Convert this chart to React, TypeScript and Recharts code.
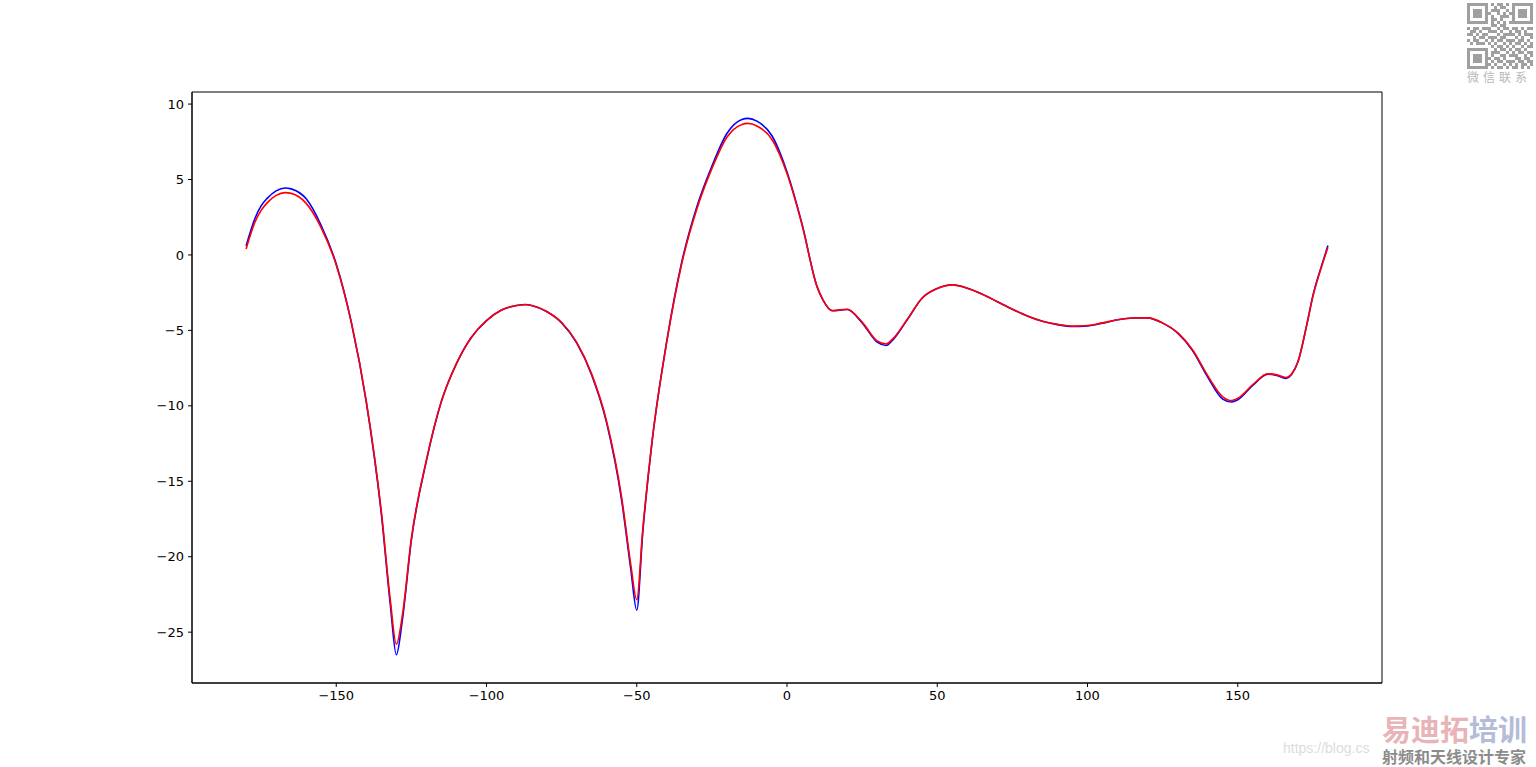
import { LineChart, Line, XAxis, YAxis, ReferenceArea } from 'recharts'

const angles = [
  -180, -177, -175, -173, -170, -167, -165, -160, -155, -150, -145, -140, -135, -132, -130, -128, -125, -120,
  -115, -110, -105, -100, -95, -90, -87, -85, -80, -75, -70, -65, -60, -55, -52, -50, -48, -45,
  -40, -35, -30, -25, -20, -15, -13, -10, -5, 0, 5, 10, 12, 15, 20, 25, 30, 33, 35, 40, 45, 50,
  55, 60, 65, 70, 75, 80, 85, 90, 95, 100, 105, 110, 115, 120, 125, 130, 135, 140, 145, 148,
  150, 155, 160, 163, 166, 168, 170, 173, 175, 178, 180,
]

const redGain = [
  0.4, 2.2, 2.95, 3.45, 3.95, 4.13, 4.08, 3.42, 1.8, -0.66, -4.45, -9.7, -17.0, -22.9, -25.8, -23.9, -18.8, -13.6,
  -9.7, -7.2, -5.45, -4.35, -3.65, -3.35, -3.3, -3.35, -3.75, -4.48, -5.8, -7.9, -11.05, -16.1, -20.5, -22.85, -18.2, -12.5,
  -5.75, -0.55, 3.05, 5.72, 7.8, 8.65, 8.72, 8.55, 7.65, 5.4, 2.0, -2.1, -3.0, -3.68, -3.6, -4.45, -5.7, -5.9, -5.6, -4.28, -2.85, -2.22,
  -1.98, -2.2, -2.6, -3.1, -3.6, -4.05, -4.4, -4.6, -4.72, -4.68, -4.5, -4.3, -4.18, -4.17, -4.5, -5.15, -6.3, -8.0, -9.4, -9.65,
  -9.5, -8.6, -7.88, -7.95, -8.12, -7.85, -7.1, -4.6, -2.75, -0.7, 0.5,
]

const blueGain = [
  0.6, 2.45, 3.25, 3.75, 4.25, 4.44, 4.38, 3.72, 1.95, -0.6, -4.45, -9.75, -17.15, -23.2, -26.5, -24.2, -18.9, -13.65,
  -9.7, -7.2, -5.45, -4.35, -3.65, -3.35, -3.28, -3.35, -3.75, -4.5, -5.82, -7.95, -11.15, -16.3, -20.8, -23.55, -18.4, -12.55,
  -5.7, -0.45, 3.2, 5.88, 8.05, 8.98, 9.05, 8.87, 7.9, 5.5, 2.05, -2.1, -3.0, -3.7, -3.62, -4.5, -5.78, -6.0, -5.68, -4.3, -2.85, -2.22,
  -1.97, -2.2, -2.6, -3.1, -3.6, -4.05, -4.4, -4.62, -4.74, -4.7, -4.52, -4.3, -4.18, -4.17, -4.52, -5.18, -6.35, -8.1, -9.55, -9.75,
  -9.6, -8.65, -7.9, -7.98, -8.18, -7.9, -7.1, -4.6, -2.7, -0.65, 0.62,
]

const xTicks = [-150, -100, -50, 0, 50, 100, 150]
const yTicks = [10, 5, 0, -5, -10, -15, -20, -25]
const xDomain = [-198, 198]
const yDomain = [-28.37, 10.8]

const data = angles.map((a, i) => ({ angle: a, blue: blueGain[i], red: redGain[i] }))

const fmt = (v: number) => String(v).replace('-', '\u2212')
const tickStyle = { fill: '#000', fontSize: 13, fontFamily: 'DejaVu Sans' }

function QrMark() {
  // rough stand-in for the QR watermark
  const cells: JSX.Element[] = []
  const pattern = [
    '1111111010110101111111',
    '1000001001011001000001',
    '1011101011100101011101',
    '1011101100101011011101',
    '1011101010011101011101',
    '1000001011010001000001',
    '1111111010101011111111',
    '0000000011011000000000',
    '1011011100101101101011',
    '0110100111010010110100',
    '1101011000101111010111',
    '0010110111011000101001',
    '1011001010110111011010',
    '0101110101001010110101',
    '0000000010110101001011',
    '1111111001011010110100',
    '1000001011100101011011',
    '1011101010011011100101',
    '1011101101101000110110',
    '1011101010110111011011',
    '1000001101001010101101',
    '1111111010110101101010',
  ]
  pattern.forEach((row, r) =>
    row.split('').forEach((c, k) => {
      if (c === '1') cells.push(<rect key={r + '-' + k} x={k * 3} y={r * 3} width={3} height={3} fill="#a0a0a0" />)
    })
  )
  return (
    <svg width={66} height={66} style={{ position: 'absolute', left: 1467, top: 3 }}>
      {cells}
    </svg>
  )
}

export default function App() {
  return (
    <div style={{ position: 'absolute', left: 0, top: 0, width: 1536, height: 767, background: '#fff', overflow: 'hidden' }}>
      <LineChart
        width={1536}
        height={767}
        data={data}
        margin={{ top: 92, right: 154, bottom: 54, left: 132 }}
      >
        <XAxis
          dataKey="angle"
          type="number"
          domain={xDomain}
          ticks={xTicks}
          tickFormatter={fmt}
          allowDataOverflow
          height={30}
          axisLine={{ stroke: '#000', strokeWidth: 1 }}
          tickLine={{ stroke: '#000' }}
          tickSize={4}
          tickMargin={4}
          tick={tickStyle}
        />
        <YAxis
          type="number"
          domain={yDomain}
          ticks={yTicks}
          tickFormatter={fmt}
          allowDataOverflow
          width={60}
          axisLine={{ stroke: '#000', strokeWidth: 1 }}
          tickLine={{ stroke: '#000' }}
          tickSize={4}
          tickMargin={4}
          tick={tickStyle}
        />
        <ReferenceArea
          x1={xDomain[0]}
          x2={xDomain[1]}
          y1={yDomain[0]}
          y2={yDomain[1]}
          fill="none"
          fillOpacity={0}
          stroke="#000"
          strokeWidth={1}
          ifOverflow="visible"
        />
        <Line
          dataKey="blue"
          type="monotone"
          stroke="#0000ff"
          strokeWidth={1.6}
          dot={false}
          isAnimationActive={false}
        />
        <Line
          dataKey="red"
          type="monotone"
          stroke="#ff0000"
          strokeWidth={1.6}
          dot={false}
          isAnimationActive={false}
        />
      </LineChart>

      <QrMark />
      <div
        style={{
          position: 'absolute', left: 1467, top: 68, width: 68, fontSize: 12, color: '#b8b8b8',
          fontFamily: 'Noto Sans CJK SC', letterSpacing: 4, whiteSpace: 'nowrap',
        }}
      >
        微信联系
      </div>
      <div
        style={{
          position: 'absolute', left: 1283, top: 740, fontSize: 14, lineHeight: '16px', color: '#dcdcdc',
          fontFamily: 'Liberation Sans', whiteSpace: 'nowrap',
        }}
      >
        https://blog.cs
      </div>
      <div
        style={{
          position: 'absolute', left: 1382, top: 713, fontSize: 29, fontWeight: 700, lineHeight: '30px',
          fontFamily: 'Noto Sans CJK SC', whiteSpace: 'nowrap',
        }}
      >
        <span style={{ color: '#e8b4b8' }}>易迪拓</span>
        <span style={{ color: '#b4bcd8' }}>培训</span>
      </div>
      <div
        style={{
          position: 'absolute', left: 1382, top: 748, fontSize: 16, fontWeight: 700, lineHeight: '17px',
          color: '#8c8c8c', fontFamily: 'Noto Sans CJK SC', whiteSpace: 'nowrap',
        }}
      >
        射频和天线设计专家
      </div>
    </div>
  )
}
